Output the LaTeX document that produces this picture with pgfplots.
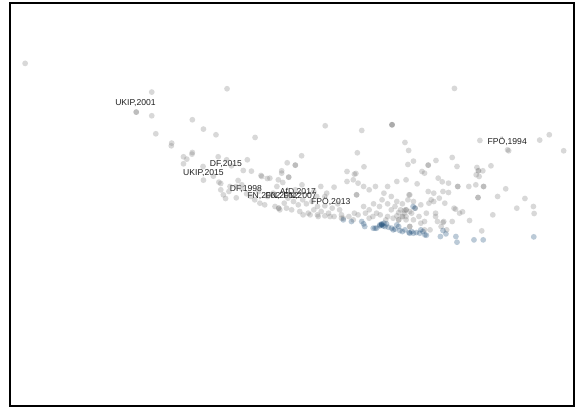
\documentclass[border=0pt]{standalone}
\usepackage{pgfplots}
\pgfplotsset{compat=1.18}
\usepackage{fontspec}
\setmainfont{Liberation Sans}
\definecolor{ptgray}{RGB}{127,127,127}
\definecolor{ptblue}{RGB}{31,78,121}
\begin{document}
\begin{tikzpicture}
\begin{axis}[
 scale only axis, width=564pt, height=403pt,
 xmin=27, xmax=1555, ymin=10, ymax=1218, y dir=reverse,
 axis line style={line width=1.1pt, black},
 xtick=\empty, ytick=\empty,
 clip=true,
]
\addplot[only marks, mark=*, mark size=2.9pt, color=ptgray, mark options={draw opacity=0, line width=0pt, fill=ptgray, fill opacity=0.3}] table {
x y
68 191
411 277
615 267
1231 266
369 337
369 337
411 348
521 360
881 378
980 392
1062 375
1062 375
1062 375
551 388
585 405
422 402
691 413
465 430
464 438
1097 428
1300 422
1378 453
1375 450
1462 421
1488 405
1527 453
1107 452
968 459
497 471
521 458
520 463
497 492
506 478
591 471
614 480
627 498
659 512
670 480
681 514
817 468
778 489
800 496
800 496
763 513
763 520
1105 494
1120 484
1160 496
1160 496
1181 482
1225 473
1238 500
1292 503
1296 513
1296 513
1308 513
1330 498
986 501
940 515
960 523
964 521
957 540
550 500
551 541
578 529
593 547
598 551
623 560
645 542
655 555
605 585
707 527
709 530
731 535
754 540
724 536
782 532
782 532
766 548
818 555
598 570
611 596
640 594
655 566
668 582
1143 515
1150 520
1187 535
1198 546
1215 550
1240 560
1240 560
1290 525
1298 530
1289 555
1310 560
1310 560
1295 593
1295 593
869 560
905 562
885 580
858 590
940 545
970 550
985 560
966 585
966 585
1000 570
1017 560
1050 560
1075 545
1100 540
1130 552
1160 575
1175 580
1168 600
1200 575
1215 578
1270 560
1348 590
1370 567
1422 596
1445 620
1447 641
1400 625
1335 645
1272 662
1305 693
1040 580
1060 590
1110 585
1108 585
1035 600
1075 605
1105 600
700 575
725 590
740 580
750 560
800 570
850 575
880 590
640 560
620 575
680 590
690 600
704 610
717 615
745 620
755 625
755 625
758 630
776 625
790 630
770 610
780 595
795 605
808 615
820 600
830 612
845 605
812 635
821 645
840 645
862 650
860 620
880 618
900 625
915 612
835 640
870 635
890 640
894 650
925 645
925 655
945 650
957 660
960 640
985 620
1000 630
1020 640
1060 630
1085 630
1095 640
1100 650
1125 625
1155 640
1180 640
1230 625
1234 628
1253 636
1245 640
1050 650
1080 660
1080 660
1110 680
1110 680
1150 665
1180 650
1200 668
1202 665
1225 665
990 640
1010 650
1030 645
1045 660
1065 655
1075 648
1090 650
1090 650
1100 660
1115 640
1120 660
1135 650
1140 670
1080 638
1095 632
1100 630
1100 630
1110 635
1012 612
1028 620
1050 612
1070 620
1090 612
1120 605
1140 615
1162 610
1175 605
1190 595
1205 610
1000 655
970 645
920 630
930 655
905 650
880 648
860 645
850 630
1185 665
1195 680
1210 690
1165 690
1150 690
};
\addplot[only marks, mark=*, mark size=2.9pt, color=ptblue, mark options={draw opacity=0, line width=0pt, fill=ptblue, fill opacity=0.3}] table {
x y
930 660
952 665
980 665
985 672
988 680
1011 685
1016 685
1020 685
1029 678
1029 675
1034 675
1034 672
1034 675
1038 678
1040 670
1043 680
1047 672
1052 682
1061 685
1065 690
1070 688
1075 675
1080 680
1083 692
1090 695
1097 690
1108 698
1110 700
1115 695
1120 700
1128 698
1137 700
1140 690
1146 695
1151 705
1155 706
1119 620
1124 625
1193 710
1200 692
1208 702
1235 710
1238 727
1284 720
1309 720
1446 711
};
\begin{scope}[every node/.style={font=\fontsize{8.6}{10}\selectfont, text=black!88, inner sep=0pt}]
\node at (axis cs:367,309) {UKIP,2001};
\node at (axis cs:1374,426) {FPÖ,1994};
\node at (axis cs:612,494) {DF,2015};
\node at (axis cs:551,519) {UKIP,2015};
\node at (axis cs:666,569) {DF,1998};
\node at (axis cs:807,575) {AfD,2017};
\node at (axis cs:715,590) {FN,2002};
\node at (axis cs:764,590) {FN,2012};
\node at (axis cs:813,590) {FN,2007};
\node at (axis cs:896,606) {FPÖ,2013};
\end{scope}
\end{axis}
\path (current axis.south west) ++(-10pt,-3pt) (current axis.north east) ++(5pt,3pt);
\end{tikzpicture}
\end{document}
